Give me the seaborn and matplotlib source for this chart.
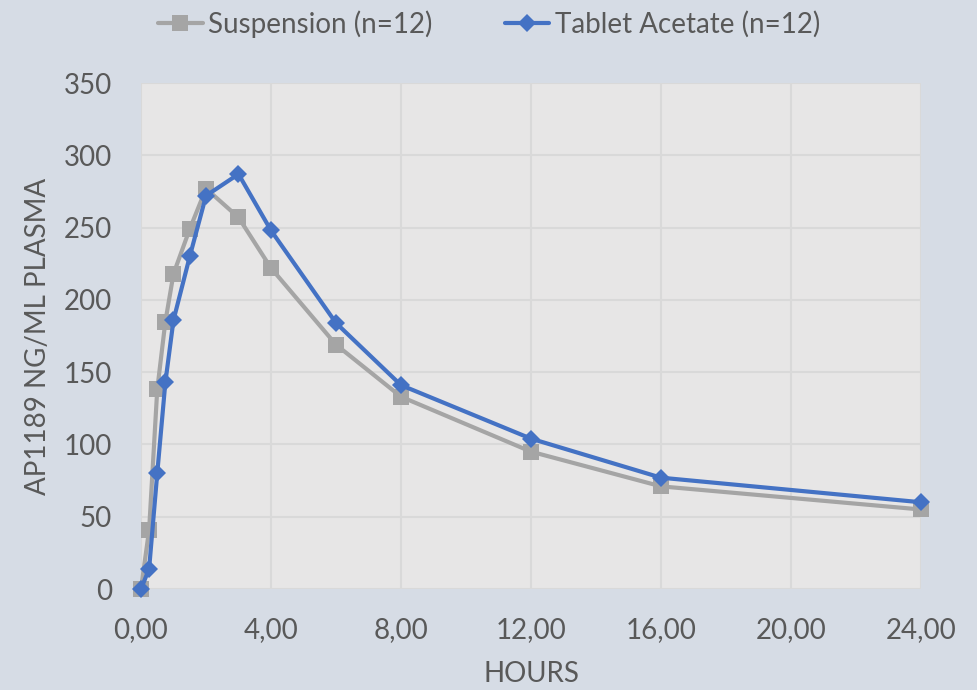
import matplotlib
matplotlib.use("Agg")
import matplotlib.pyplot as plt
import pandas as pd
import seaborn as sns
from matplotlib.ticker import FuncFormatter, MultipleLocator

hours = [0, 0.25, 0.5, 0.75, 1, 1.5, 2, 3, 4, 6, 8, 12, 16, 24]
suspension = [0, 41, 138, 185, 218, 249, 277, 257, 222, 169, 133, 95, 71, 55]
tablet = [0, 14, 80, 143, 186, 230, 272, 287, 248, 184, 141, 104, 77, 60]
series_names = ["Suspension (n=12)", "Tablet Acetate (n=12)"]

df = pd.DataFrame({
    "hours": hours * 2,
    "conc": suspension + tablet,
    "series": [series_names[0]] * len(hours) + [series_names[1]] * len(hours),
})

sns.set_style("white")
plt.rcParams["font.family"] = ["Lato", "DejaVu Sans"]

text_col = "#595959"
fs = 20
fig = plt.figure(figsize=(9.78, 6.90), dpi=100)
fig.patch.set_facecolor("#D6DCE5")
ax = fig.add_axes([141 / 978, 1 - 589 / 690, 780 / 978, 506 / 690])
ax.set_facecolor("#E7E6E6")

palette = {series_names[0]: "#A5A5A5", series_names[1]: "#4472C4"}
markers = {series_names[0]: "s", series_names[1]: "D"}
sns.lineplot(data=df, x="hours", y="conc", hue="series", style="series",
             palette=palette, markers=markers, dashes=False, linewidth=3,
             markersize=11, markeredgewidth=0, ax=ax, zorder=3)
for ln in ax.lines:
    ln.set_clip_on(False)
    if ln.get_marker() == "D":
        ln.set_markersize(9)

ax.set_xlim(0, 24)
ax.set_ylim(0, 350)
ax.xaxis.set_major_locator(MultipleLocator(4))
ax.yaxis.set_major_locator(MultipleLocator(50))
ax.xaxis.set_major_formatter(FuncFormatter(lambda v, p: f"{v:.2f}".replace(".", ",")))
ax.grid(True, color="#D9D9D9", linewidth=1.5, zorder=0)
ax.set_axisbelow(True)
for s in ax.spines.values():
    s.set_visible(False)
ax.tick_params(axis="both", length=0, labelsize=fs, colors=text_col)
ax.tick_params(axis="x", pad=20)
ax.tick_params(axis="y", pad=21)

ax.set_xlabel("HOURS", fontsize=fs, color=text_col, labelpad=13)
ax.set_ylabel("AP1189 NG/ML PLASMA", fontsize=fs, color=text_col, labelpad=9)

handles, labels = ax.get_legend_handles_labels()
leg = fig.legend(handles, labels, loc="center", bbox_to_anchor=(0.5, 1 - 24 / 690),
                 ncol=2, frameon=False, fontsize=fs, handlelength=1.6,
                 columnspacing=2.6, handletextpad=0.2)
for t in leg.get_texts():
    t.set_color(text_col)
ax.get_legend().remove()

fig.savefig("out.png", dpi=100, facecolor=fig.get_facecolor())
